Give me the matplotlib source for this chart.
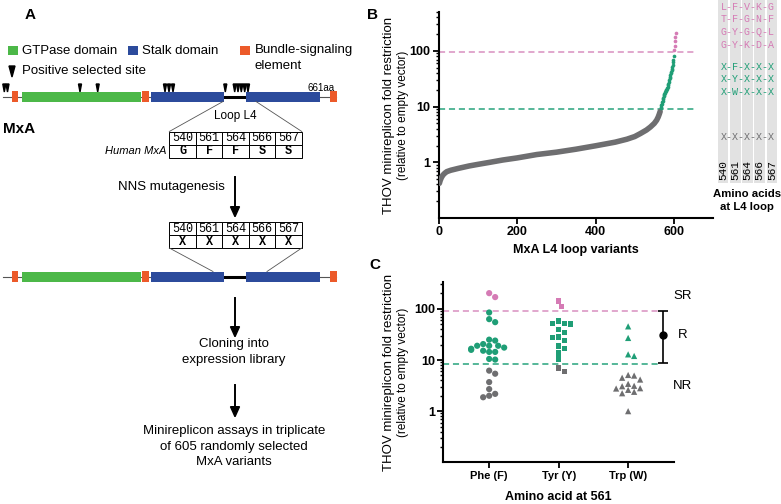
import numpy as np
import matplotlib.pyplot as plt
from matplotlib.patches import Rectangle, Polygon
from matplotlib.ticker import FixedLocator, LogLocator, NullFormatter

plt.rcParams['font.family'] = ['Liberation Sans', 'DejaVu Sans']

# ---- panel B: 605 variants ranked by fold restriction ----
nr_rank = [1, 3, 6, 10, 15, 20, 30, 50, 77, 100, 130, 163, 200, 250, 300, 350,
           400, 450, 480, 500, 515, 530, 540, 550, 556, 560, 563, 565]
nr_fold = [0.42, 0.47, 0.53, 0.59, 0.64, 0.68, 0.72, 0.78, 0.86, 0.92, 1.0, 1.1,
           1.2, 1.38, 1.52, 1.72, 1.98, 2.3, 2.6, 2.9, 3.3, 3.8, 4.3, 5.0, 5.7,
           6.5, 7.4, 8.2]
r_fold = [9.4, 10, 10.6, 11.2, 12, 12.8, 13.6, 14.5, 15.3, 16, 16.8, 17.5, 18.2,
          19, 19.5, 20, 20.5, 21.2, 22.5, 24, 26, 28, 30, 32, 34.5, 37, 39.5, 42,
          45, 48, 51, 56, 62, 70, 80]
sr_fold = [105, 125, 150, 180, 210]
thr_sr_b = 97
thr_r_b = 9

sr_variants = ['LFVKG', 'TFGNF', 'GYGQL', 'GYKDA']
r_variants = ['XFXXX', 'XYXXX', 'XWXXX']
nr_variants = ['XXXXX']
loop_sites = ['540', '561', '564', '566', '567']
human_mxa = ['G', 'F', 'F', 'S', 'S']

# ---- panel C: variants grouped by residue 561 ----
aa_labels = ['Phe (F)', 'Tyr (Y)', 'Trp (W)']
phe_sr = [203, 170]
phe_r = [85, 63, 55, 25, 20.5, 24, 19, 19, 16.6, 14.4, 15.2, 14.4, 15.8, 17.5,
         19, 10.2, 10.5]
phe_nr = [6.2, 5.4, 3.7, 2.7, 2.18, 1.87, 2.0]
tyr_sr = [111, 144]
tyr_r = [58.6, 50.5, 52, 52, 34.7, 39.7, 27.7, 23.9, 28.2, 16.9, 13.8, 18.8, 10.5]
tyr_nr = [6.0, 6.9]
trp_sr = []
trp_r = [45.5, 27, 12, 12.9]
trp_nr = [4.5, 5.1, 4.96, 4.15, 3.42, 3.07, 2.77, 2.39, 2.24, 2.61, 2.81, 3.13, 1.0]
thr_sr_c = 91
thr_r_c = 8.4
r_range = (8.7, 91)
r_mid = 31

PINK = '#d57bb5'
GREEN = '#1f9e76'
GRAY = '#6e6e70'
PINK_L = '#d890c0'
GREEN_L = '#27a37c'
MONO = 'Liberation Mono'

fig = plt.figure(figsize=(7.81, 5.04), dpi=100)
W, H = 781, 504

ov = fig.add_axes([0, 0, 1, 1])
ov.set_xlim(0, W)
ov.set_ylim(H, 0)
ov.axis('off')


def fax(l, t, r, b):
    return fig.add_axes([l / W, 1 - b / H, (r - l) / W, (b - t) / H])


# ================= panel A =================
ov.text(30, 15, 'A', fontsize=11, fontweight='bold', ha='center', va='center')

c_gtp, c_stalk, c_bse = '#4cb848', '#2c4b9c', '#ec5a2a'
for x0, col, lab in [(7.5, c_gtp, 'GTPase domain'), (127.5, c_stalk, 'Stalk domain'),
                     (239.5, c_bse, 'Bundle-signaling')]:
    ov.add_patch(Rectangle((x0, 46), 10, 9, facecolor=col, edgecolor='none'))
    ov.text(x0 + 15, 50.5, lab, fontsize=9.5, va='center')
ov.text(254.5, 66, 'element', fontsize=9.5, va='center')
ov.add_patch(Polygon([(9, 66), (15, 66), (12, 77)], closed=True, color='k'))
ov.text(22, 71.5, 'Positive selected site', fontsize=9.5, va='center')

segments = [(12.3, 18.3, c_bse), (22.3, 140.7, c_gtp), (141.7, 149, c_bse),
            (150.7, 224.3, c_stalk), (246, 320, c_stalk), (330, 336.7, c_bse)]


def gene(yc):
    ov.plot([3, 336], [yc, yc], color='#555555', lw=0.8, zorder=1)
    ov.plot([224.3, 246], [yc, yc], color='k', lw=2.2, zorder=1)
    for x0, x1, col in segments:
        h = 10 if col != c_bse else 10.5
        ov.add_patch(Rectangle((x0, yc - h / 2), x1 - x0, h, facecolor=col,
                               edgecolor='none', zorder=2))


gene(96.7)
gene(276.5)
ov.text(335, 88, '661aa', fontsize=7, ha='right', va='center')

site_x = [4.3, 7.5, 80, 97.7, 165, 169, 173, 225.3, 234.7, 238, 241.3, 244.7, 248]
for sx in site_x:
    ov.add_patch(Polygon([(sx - 1.5, 84), (sx + 1.5, 84), (sx, 92)], closed=True,
                         color='k'))

ov.text(3, 129, 'MxA', fontsize=11, fontweight='bold', va='center')

# table 1
tx0, cw = 169.3, 26.5
ov.plot([223, tx0], [101.5, 131.5], color='#555555', lw=0.6)
ov.plot([256, tx0 + 5 * cw], [101.5, 131.5], color='#555555', lw=0.6)
ov.text(235, 116, 'Loop L4', fontsize=8.5, ha='center', va='center')


def table(ytop, row2):
    for r in range(2):
        for i in range(5):
            ov.add_patch(Rectangle((tx0 + i * cw, ytop + r * 13), cw, 13,
                                   facecolor='white', edgecolor='k', lw=0.7))
    for i in range(5):
        ov.text(tx0 + (i + 0.5) * cw, ytop + 6.7, loop_sites[i], family=MONO,
                fontsize=8.5, ha='center', va='center')
        ov.text(tx0 + (i + 0.5) * cw, ytop + 19.7, row2[i], family=MONO,
                fontsize=8.5, fontweight='bold', ha='center', va='center')


table(131.5, human_mxa)
ov.text(166, 150.5, 'Human MxA', fontsize=8, style='italic', ha='right', va='center')


def arrow(y0, y1):
    ov.plot([235, 235], [y0, y1 - 8], color='k', lw=1.4)
    ov.add_patch(Polygon([(230.5, y1 - 10), (239.5, y1 - 10), (235, y1)],
                         closed=True, color='k'))


arrow(176.7, 216.7)
ov.text(225, 187, 'NNS mutagenesis', fontsize=9.5, ha='right', va='center')

table(222, ['X'] * 5)
ov.plot([tx0, 213], [248, 271.5], color='#555555', lw=0.6)
ov.plot([tx0 + 5 * cw, 267], [248, 271.5], color='#555555', lw=0.6)

arrow(298, 336.7)
ov.text(234, 343.5, 'Cloning into', fontsize=9.5, ha='center', va='center')
ov.text(234, 359.5, 'expression library', fontsize=9.5, ha='center', va='center')
arrow(385, 416.7)
ov.text(234, 431, 'Minireplicon assays in triplicate', fontsize=9.5,
        ha='center', va='center')
ov.text(234, 447, 'of 605 randomly selected', fontsize=9.5, ha='center', va='center')
ov.text(234, 462, 'MxA variants', fontsize=9.5, ha='center', va='center')

# ================= panel B =================
ov.text(372, 15, 'B', fontsize=11, fontweight='bold', ha='center', va='center')
ax = fax(439, 12, 713, 218)


def style(a):
    for s in ['top', 'right']:
        a.spines[s].set_visible(False)
    for s in ['left', 'bottom']:
        a.spines[s].set_linewidth(1.5)
    a.set_yscale('log')
    a.yaxis.set_major_locator(FixedLocator([1, 10, 100]))
    a.set_yticklabels(['1', '10', '100'], fontweight='bold', fontsize=9)
    a.yaxis.set_minor_locator(LogLocator(base=10, subs=np.arange(2, 10)))
    a.yaxis.set_minor_formatter(NullFormatter())
    a.tick_params(axis='both', which='major', length=4.5, width=1.3, pad=1.5)
    a.tick_params(axis='y', which='minor', length=2.5, width=1.0)


style(ax)
ax.set_xlim(0, 700)
ax.set_ylim(0.1, 500)
ax.set_xticks([0, 200, 400, 600])
ax.set_xticklabels(['0', '200', '400', '600'], fontweight='bold', fontsize=9)
ax.plot(nr_rank, nr_fold, color=GRAY, lw=4, solid_capstyle='round', zorder=3)
r_rank = np.arange(len(r_fold)) + nr_rank[-1] + 1
sr_rank = np.arange(len(sr_fold)) + r_rank[-1] + 1
ax.scatter(r_rank, r_fold, s=7, color=GREEN, zorder=3, linewidths=0)
ax.scatter(sr_rank, sr_fold, s=7, color=PINK, zorder=3, linewidths=0)
ax.plot([0, 656], [thr_sr_b] * 2, color=PINK_L, lw=1.1, ls=(0, (4, 2.5)), zorder=2)
ax.plot([0, 656], [thr_r_b] * 2, color=GREEN_L, lw=1.1, ls=(0, (4, 2.5)), zorder=2)
ov.text(576, 249.5, 'MxA L4 loop variants', fontsize=9, fontweight='bold',
        ha='center', va='center')

for y, lab in [(26, 'SR'), (80, 'R'), (150, 'NR')]:
    ov.text(705, y, lab, fontsize=9.5, ha='center', va='center')

col_x = [723 + 12.25 * i for i in range(5)]
for cx in col_x:
    ov.add_patch(Rectangle((cx - 5.3, 0), 10.6, 183, facecolor='#e2e2e2',
                           edgecolor='none', zorder=0))
rows = ([(v, PINK) for v in sr_variants] + [(None, None)] +
        [(v, GREEN) for v in r_variants])
y = 7
for v, col in rows:
    if v is None:
        y += 10
        continue
    ov.text(747.5, y, '-'.join(v), family=MONO, fontsize=7.2, color=col,
            ha='center', va='center')
    y += 12.5
for v in nr_variants:
    ov.text(747.5, 137, '-'.join(v), family=MONO, fontsize=7.2, color=GRAY,
            ha='center', va='center')
for cx, s in zip(col_x, loop_sites):
    ov.text(cx, 170, s, family=MONO, fontsize=8, rotation=90, ha='center',
            va='center')
ov.text(747, 194, 'Amino acids', fontsize=8.2, fontweight='bold', ha='center',
        va='center')
ov.text(747, 207, 'at L4 loop', fontsize=8.2, fontweight='bold', ha='center',
        va='center')

for yc in [115, 372]:
    ov.text(389, yc, 'THOV minireplicon fold restriction', fontsize=9.5,
            rotation=90, ha='center', va='center')
    ov.text(403, yc, '(relative to empty vector)', fontsize=8.5, rotation=90,
            ha='center', va='center')

# ================= panel C =================
ov.text(375, 265, 'C', fontsize=11, fontweight='bold', ha='center', va='center')
cx_ax = fax(443.3, 281.7, 674, 462.3)
style(cx_ax)
cx_ax.set_xlim(0.34, 3.66)
cx_ax.set_ylim(0.1, 340)
cx_ax.set_xticks([1, 2, 3])
cx_ax.set_xticklabels(aa_labels, fontweight='bold', fontsize=8)
ov.text(558, 497, 'Amino acid at 561', fontsize=9, fontweight='bold',
        ha='center', va='center')
cx_ax.plot([0.34, 3.43], [thr_sr_c] * 2, color=PINK_L, lw=1.1, ls=(0, (4, 2.5)))
cx_ax.plot([0.34, 3.43], [thr_r_c] * 2, color=GREEN_L, lw=1.1, ls=(0, (4, 2.5)))
cx_ax.errorbar([3.5], [r_mid], yerr=[[r_mid - r_range[0]], [r_range[1] - r_mid]],
               fmt='o', color='k', ms=5, capsize=3.5, lw=1.2, capthick=1.2)
for y, lab in [(296, 'SR'), (335.5, 'R'), (386, 'NR')]:
    ov.text(683, y, lab, fontsize=9.5, ha='center', va='center')

fig.canvas.draw()
groups = [(1, 'o', [(phe_sr, PINK), (phe_r, GREEN), (phe_nr, GRAY)]),
          (2, 's', [(tyr_sr, PINK), (tyr_r, GREEN), (tyr_nr, GRAY)]),
          (3, '^', [(trp_sr, PINK), (trp_r, GREEN), (trp_nr, GRAY)])]
d = 6.0
tr = cx_ax.transData
for xc, mk, parts in groups:
    vals, cols = [], []
    for vv, col in parts:
        vals += vv
        cols += [col] * len(vv)
    order = np.argsort(vals)[::-1]
    placed = []
    xs = np.zeros(len(vals))
    for i in order:
        px, py = tr.transform((xc, vals[i]))
        for k in [0, 1, -1, 2, -2, 3, -3, 4, -4, 5, -5, 6, -6]:
            qx = px + k * d * 0.5
            if all((qx - ax_) ** 2 + (py - ay_) ** 2 >= d * d * 0.95
                   for ax_, ay_ in placed):
                break
        placed.append((qx, py))
        xs[i] = tr.inverted().transform((qx, py))[0]
    sz = 20 if mk == 'o' else (16 if mk == 's' else 20)
    cx_ax.scatter(xs, vals, marker=mk, s=sz, c=cols, linewidths=0, zorder=3)

fig.savefig('out.png', dpi=100)
